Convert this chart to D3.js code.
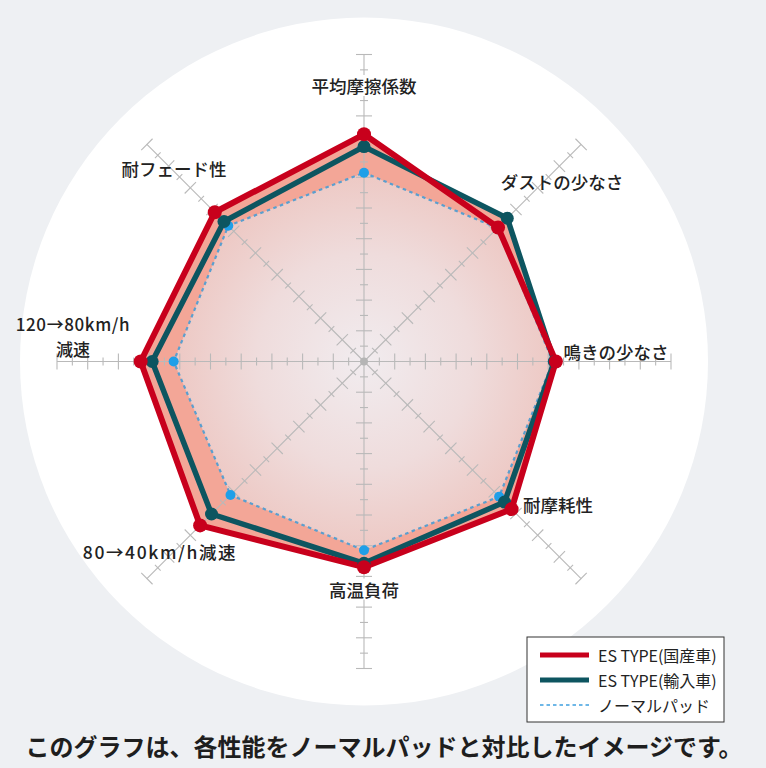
<!DOCTYPE html>
<html><head><meta charset="utf-8">
<script src="https://cdn.jsdelivr.net/npm/d3@7"></script>
<style>
html,body{margin:0;padding:0;background:#eef0f3;}
svg{display:block;}
</style></head>
<body>
<script>
const categories = ["平均摩擦係数","ダストの少なさ","鳴きの少なさ","耐摩耗性","高温負荷","80→40km/h減速","120→80km/h減速","耐フェード性"];
const esDomestic = [14.8, 12.35, 12.5, 13.6, 13.4, 15.1, 14.55, 13.75];
const esImport   = [14.0, 13.2, 12.4, 12.95, 13.15, 14.05, 13.8, 12.9];
const normalPad  = [12.3, 12.3, 12.3, 12.45, 12.3, 12.3, 12.4, 12.5];
const tickValues = d3.range(1, 21);
const seriesNames = ["ES TYPE(国産車)","ES TYPE(輸入車)","ノーマルパッド"];
const note = "このグラフは、各性能をノーマルパッドと対比したイメージです。";

const W = 766, H = 768, cx = 364, cy = 361.5;
const FONT = "'Noto Sans CJK JP','Noto Sans',sans-serif";
const svg = d3.select("body").append("svg").attr("width", W).attr("height", H);
const defs = svg.append("defs");
const grad = defs.append("radialGradient").attr("id","inner")
  .attr("gradientUnits","userSpaceOnUse").attr("cx",0).attr("cy",0).attr("r",195);
grad.append("stop").attr("offset","0%").attr("stop-color","#f1ecef");
grad.append("stop").attr("offset","55%").attr("stop-color","#efdcdc");
grad.append("stop").attr("offset","100%").attr("stop-color","#edc7c2");

svg.append("rect").attr("width",W).attr("height",H).attr("fill","#eef0f3");
svg.append("circle").attr("cx",cx).attr("cy",cy).attr("r",344).attr("fill","#ffffff");

const r = d3.scaleLinear().domain([0,20]).range([0,307]);
const angle = d3.scalePoint().domain(d3.range(categories.length)).range([0, 2*Math.PI*(categories.length-1)/categories.length]);
const g = svg.append("g").attr("transform",`translate(${cx},${cy})`);
const radial = d3.lineRadial().angle((d,i)=>angle(i)).radius(d=>r(d)).curve(d3.curveLinearClosed);
const pt = (v,i)=>{const a=angle(i); return [Math.sin(a)*r(v), -Math.cos(a)*r(v)];};

// fills
g.append("path").attr("d",radial(esImport)).attr("fill","#f3a697");
g.append("path").attr("d",radial(esDomestic)).attr("fill","#f3a697");
g.append("path").attr("d",radial(normalPad)).attr("fill","url(#inner)");

// axes
const axes = g.append("g").attr("stroke","#b9b9b9").attr("stroke-width",1.1);
categories.forEach((c,i)=>{
  const deg = angle(i)*180/Math.PI;
  const ag = axes.append("g").attr("transform",`rotate(${deg})`);
  ag.append("line").attr("x1",0).attr("y1",0).attr("x2",0).attr("y2",-r(20));
  ag.selectAll("line.t").data(tickValues).join("line").attr("class","t")
    .attr("x1",d=>d%2===0?-8:-4).attr("x2",d=>d%2===0?8:4)
    .attr("y1",d=>-r(d)).attr("y2",d=>-r(d));
});
g.append("circle").attr("r",4).attr("fill","#b5b5b5");

// labels
const labelPos = [[364,85.5],[562,181],[616,351],[558,504],[364,589],[160,551],[73,323],[174,168]];
const lab = svg.append("g").attr("font-family",FONT).attr("font-size",17.5).attr("font-weight",500).attr("fill","#222");
categories.forEach((c,i)=>{
  const [x,y] = labelPos[i];
  if (i===6){
    lab.append("text").attr("x",x).attr("y",y).attr("text-anchor","middle").attr("dominant-baseline","central")
      .attr("font-size",17).attr("letter-spacing",0.6).text("120→80km/h");
    lab.append("text").attr("x",x).attr("y",y+25).attr("text-anchor","middle").attr("dominant-baseline","central")
      .attr("font-size",17).text("減速");
  } else {
    const t = lab.append("text").attr("x",x).attr("y",y).attr("text-anchor","middle").attr("dominant-baseline","central").text(c);
    if (i===5) t.attr("letter-spacing",1.6);
    if (i===0||i===4){
      const b = t.node().getBBox();
      lab.insert("rect","text").attr("x",b.x-2).attr("y",b.y+2).attr("width",b.width+4).attr("height",b.height-4).attr("fill","#fff");
    }
  }
});

// lines
g.append("path").attr("d",radial(normalPad)).attr("fill","none").attr("stroke","#5a9fcf").attr("stroke-width",2.2).attr("stroke-dasharray","3.5,3.5");
g.append("path").attr("d",radial(esImport)).attr("fill","none").attr("stroke","#0d5560").attr("stroke-width",5.5).attr("stroke-linejoin","round");
g.append("path").attr("d",radial(esDomestic)).attr("fill","none").attr("stroke","#c8001c").attr("stroke-width",6).attr("stroke-linejoin","round");

// dots
g.selectAll("circle.n").data(normalPad).join("circle").attr("class","n").attr("cx",(d,i)=>pt(d,i)[0]).attr("cy",(d,i)=>pt(d,i)[1]).attr("r",5).attr("fill","#1f9fe8");
g.selectAll("circle.im").data(esImport).join("circle").attr("class","im").attr("cx",(d,i)=>pt(d,i)[0]).attr("cy",(d,i)=>pt(d,i)[1]).attr("r",6.5).attr("fill","#0d5560");
g.selectAll("circle.do").data(esDomestic).join("circle").attr("class","do").attr("cx",(d,i)=>pt(d,i)[0]).attr("cy",(d,i)=>pt(d,i)[1]).attr("r",7).attr("fill","#c8001c");

// legend
const lg = svg.append("g");
lg.append("rect").attr("x",527).attr("y",637).attr("width",197).attr("height",85).attr("fill","#fff").attr("stroke","#333").attr("stroke-width",1);
const styles = [{c:"#c8001c",w:5,d:null},{c:"#0d5560",w:5,d:null},{c:"#3fa0e0",w:1.6,d:"3.5,3"}];
seriesNames.forEach((n,i)=>{
  const y = 655 + i*25;
  const l = lg.append("line").attr("x1",540).attr("x2",589).attr("y1",y).attr("y2",y).attr("stroke",styles[i].c).attr("stroke-width",styles[i].w);
  if (styles[i].d) l.attr("stroke-dasharray",styles[i].d);
  lg.append("text").attr("x",598).attr("y",y).attr("dominant-baseline","central").attr("font-family",FONT).attr("font-size",16).attr("fill","#222").text(n);
});

// note
svg.append("text").attr("x",384).attr("y",745).attr("text-anchor","middle").attr("dominant-baseline","central")
  .attr("font-family",FONT).attr("font-weight",700).attr("font-size",24).attr("fill","#1e1e1e").text(note);
</script>
</body></html>
